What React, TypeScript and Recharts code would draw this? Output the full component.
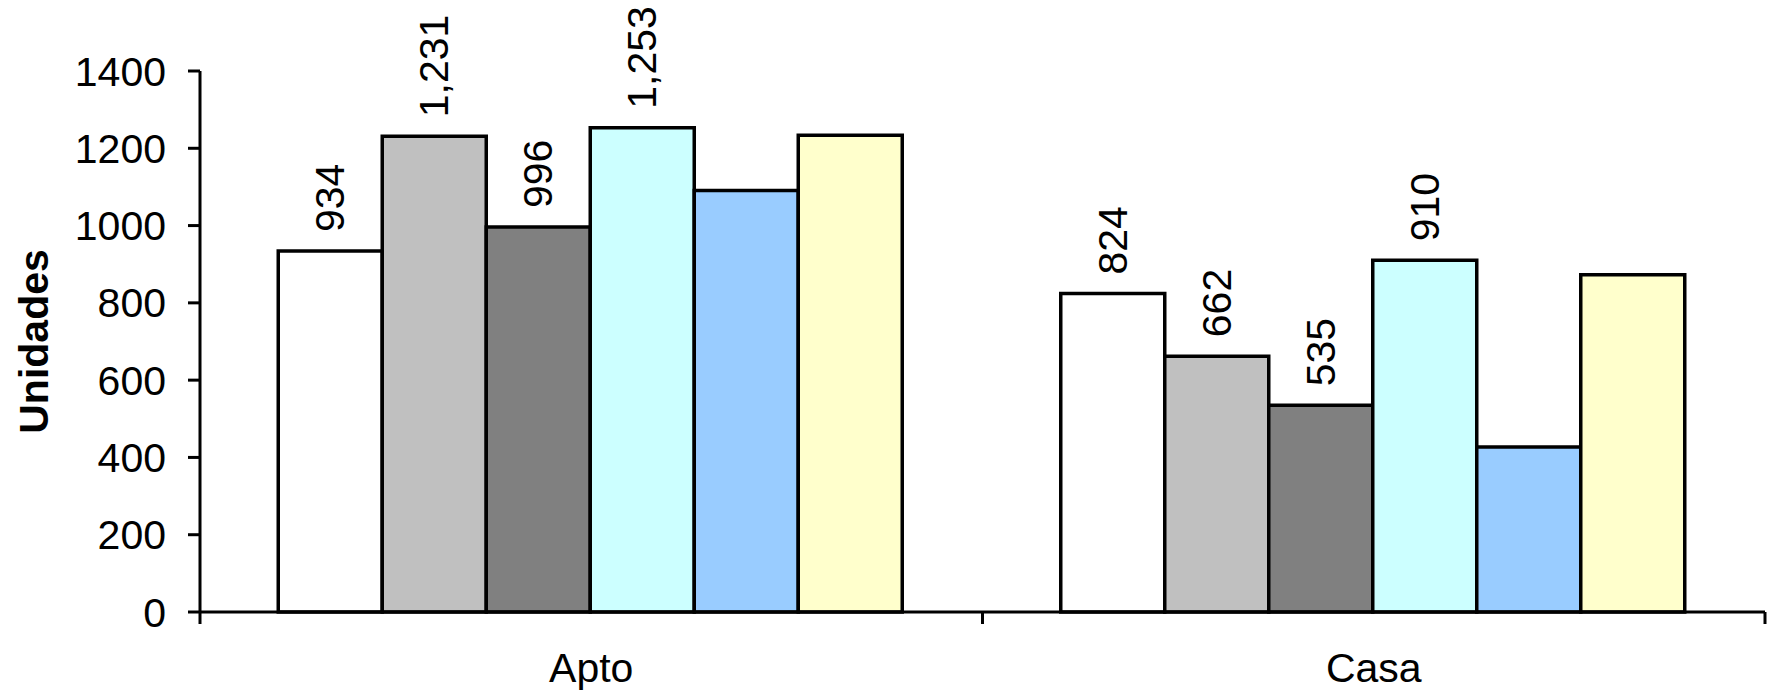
import { Bar, BarChart, Label, LabelList, XAxis, YAxis } from "recharts";

const categories = ["Apto", "Casa"];
const serie1 = [934, 824];
const serie2 = [1231, 662];
const serie3 = [996, 535];
const serie4 = [1253, 910];
const serie5 = [1091, 427];
const serie6 = [1234, 873];
const yTicks = [0, 200, 400, 600, 800, 1000, 1200, 1400];

const series = [
  { key: "s1", values: serie1, color: "#ffffff", labeled: true },
  { key: "s2", values: serie2, color: "#c0c0c0", labeled: true },
  { key: "s3", values: serie3, color: "#808080", labeled: true },
  { key: "s4", values: serie4, color: "#ccffff", labeled: true },
  { key: "s5", values: serie5, color: "#99ccff", labeled: false },
  { key: "s6", values: serie6, color: "#ffffcc", labeled: false },
];

const data = categories.map((name, i) => {
  const row: Record<string, string | number> = { name };
  series.forEach((s) => (row[s.key] = s.values[i]));
  return row;
});

const font = "'Liberation Sans', Arial, sans-serif";
const line = { stroke: "#000", strokeWidth: 3 };

function ValueLabel(props: any) {
  const { x, y, width, value } = props;
  const cx = x + width / 2;
  const ly = y - 19;
  return (
    <text
      x={cx}
      y={ly}
      transform={`rotate(-90 ${cx} ${ly})`}
      textAnchor="start"
      dominantBaseline="central"
      fontFamily={font}
      fontSize={41}
      fill="#000"
    >
      {Number(value).toLocaleString("en-US")}
    </text>
  );
}

// category label plus tick marks on the band edges (Excel style)
function CategoryTick(props: any) {
  const { x, y, payload, index } = props;
  const half = payload.offset || 0;
  const last = index === categories.length - 1;
  return (
    <g>
      <line x1={x - half} x2={x - half} y1={y} y2={y + 12} stroke="#000" strokeWidth={3} />
      {last && <line x1={x + half} x2={x + half} y1={y} y2={y + 12} stroke="#000" strokeWidth={3} />}
      <text x={x} y={y + 70} textAnchor="middle" fontFamily={font} fontSize={41} fill="#000">
        {payload.value}
      </text>
    </g>
  );
}

function YTitle(props: any) {
  const { viewBox } = props;
  const cx = viewBox.x + 34;
  const cy = viewBox.y + viewBox.height / 2;
  return (
    <text
      x={cx}
      y={cy}
      transform={`rotate(-90 ${cx} ${cy})`}
      textAnchor="middle"
      dominantBaseline="central"
      fontFamily={font}
      fontSize={41}
      fontWeight="bold"
      fill="#000"
    >
      Unidades
    </text>
  );
}

export default function App() {
  return (
    <div style={{ position: "absolute", left: 0, top: 0, background: "#fff" }}>
      <BarChart
        width={1774}
        height={690}
        data={data}
        margin={{ top: 71, right: 9, bottom: 0, left: 0 }}
        barCategoryGap="10%"
        barGap={0}
      >
        <XAxis
          dataKey="name"
          height={78}
          axisLine={line}
          tickLine={false}
          tickSize={0}
          tickMargin={0}
          interval={0}
          tick={<CategoryTick />}
        />
        <YAxis
          domain={[0, 1400]}
          ticks={yTicks}
          width={200}
          tickSize={12}
          tickMargin={22}
          axisLine={line}
          tickLine={line}
          tick={{ fill: "#000", fontSize: 41, fontFamily: font }}
        >
          <Label content={<YTitle />} />
        </YAxis>
        {series.map((s) => (
          <Bar
            key={s.key}
            dataKey={s.key}
            fill={s.color}
            stroke="#000"
            strokeWidth={3.5}
            isAnimationActive={false}
          >
            {s.labeled && <LabelList dataKey={s.key} content={<ValueLabel />} />}
          </Bar>
        ))}
      </BarChart>
    </div>
  );
}
